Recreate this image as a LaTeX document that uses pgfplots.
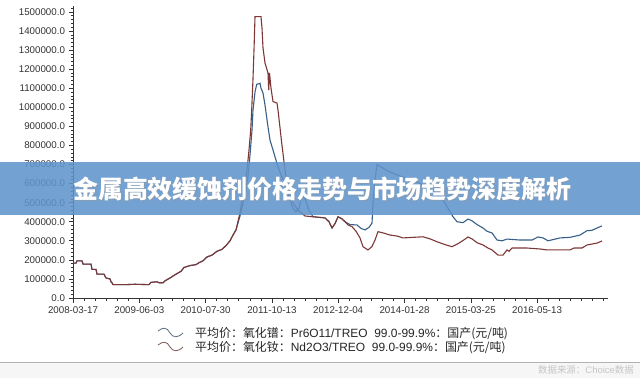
\documentclass[border=0pt]{standalone}
\usepackage{pgfplots}
\pgfplotsset{compat=1.18}
\usepackage{fontspec}
\setmainfont{Liberation Sans}
\newfontfamily\cjk{Noto Sans CJK SC}
\definecolor{prblue}{RGB}{55,95,135}
\definecolor{ndred}{RGB}{125,55,55}
\definecolor{banner}{RGB}{96,148,204}
\begin{document}
\begin{tikzpicture}[x=1bp,y=1bp]
\path[fill=white,use as bounding box] (0,0) rectangle (640,378);
\fill[gray!7] (0,0) rectangle (640,16);
\draw[gray!60,line width=0.8bp] (0,16) -- (640,16);
\begin{axis}[
  at={(73bp,80bp)}, anchor=south west,
  scale only axis, width=535bp, height=291.8bp,
  xmin=0, xmax=535, ymin=0, ymax=1530000,
  axis x line=bottom, axis y line=left,
  axis line style={-, black!80, line width=0.6bp},
  tick align=outside,
  xtick={0,66.3,132.6,198.9,265.2,331.5,397.8,464.1},
  xticklabels={2008-03-17,2009-06-03,2010-07-30,2011-10-13,2012-12-04,2014-01-28,2015-03-25,2016-05-13},
  minor xtick={0,11.05,...,535},
  ytick={0,100000,...,1500000},
  minor ytick={0,20000,...,1520000},
  major tick length=4.5bp, minor tick length=2.5bp,
  tick style={black!80, line width=0.6bp},
  scaled y ticks=false,
  yticklabel style={/pgf/number format/.cd, fixed, fixed zerofill, precision=1, 1000 sep={}, assume math mode=true},
  ticklabel style={font=\fontsize{9.8}{11}\selectfont, text=black!80},
  xticklabel style={yshift=-1bp},
]
\addplot[prblue, line width=1.1bp] coordinates {
(0,183000)(3,183000)(4,195000)(9,195000)(10,178000)(18,178000)(19,150000)(23,150000)(24,125000)(31,125000)(33,105000)(37,100000)(38,85000)(39,80000)(40,70000)(52,70000)(62,72000)(76,70000)(78,82000)(84,85000)(86,80000)(90,80000)(92,90000)(97,105000)(103,125000)(108,140000)(111,160000)(117,170000)(123,175000)(126,185000)(130,195000)(134,215000)(139,225000)(144,245000)(149,255000)(153,275000)(157,300000)(160,330000)(163,357000)
(167,430000)(172,540000)(175,640000)(177,750000)(179,880000)(180,986000)(182,1080000)(183.7,1120000)(187,1126000)(188,1100000)(190,1075000)(192,1012000)(195,897000)(197,828000)(200,776000)(205,687000)(209,634000)(214,566000)(217,514000)(220,470000)(223,452000)(226,470000)(229,540000)(232,520000)(236,460000)(240,426000)(252,420000)(256,400000)(259,367000)(262,390000)(265,426000)(269,415000)(272,400000)(277,385000)(284,383000)(288,365000)(292,357000)(296,370000)(299,393000)(300,498000)(302,620000)(304,700000)(307,690000)(317,660000)(327,640000)(337,620000)(347,600000)(357,570000)(364,545000)(370,514000)(374,479000)(380,426000)(384,400000)(390,395000)(395,414000)(399,405000)(404,385000)(410,367000)(414,350000)(419,341000)(424,304000)(429,300000)(434,309000)(447,304000)(459,304000)(465,320000)(470,315000)(475,300000)(487,315000)(497,318000)(507,330000)(514,353000)(519,355000)(524,367000)(529,378000)
};
\addplot[ndred, line width=1.1bp] coordinates {
(0,183000)(3,183000)(4,195000)(9,195000)(10,178000)(18,178000)(19,150000)(23,150000)(24,125000)(31,125000)(33,105000)(37,100000)(38,85000)(39,80000)(40,70000)(52,70000)(62,72000)(76,70000)(78,82000)(84,85000)(86,80000)(90,80000)(92,90000)(97,105000)(103,125000)(108,140000)(111,160000)(117,170000)(123,175000)(126,185000)(130,195000)(134,215000)(139,225000)(144,245000)(149,255000)(153,275000)(157,300000)(160,330000)(163,357000)
(167,446000)(170,550000)(173.7,655000)(176,776000)(177.7,881000)(178.7,986000)(180,1150000)(181,1300000)(182,1475000)(188,1475000)(189,1414000)(190,1311000)(192,1232000)(195,1180000)(195.7,1090000)(196.5,1180000)(198,1100000)(200,1030000)(204,1022000)(205,986000)(208.7,813000)(212,671000)(215,582000)(220,498000)(225,460000)(232,430000)(240,426000)(252,420000)(256,400000)(259,367000)(262,390000)(265,426000)(269,415000)(272,400000)(275,383000)(279,374000)(283,350000)(287,315000)(290,269000)(295,252000)(299,270000)(302,304000)(305,348000)(311,340000)(317,330000)(324,325000)(330,315000)(340,318000)(350,321000)(357,310000)(364,295000)(372,280000)(379,269000)(385,285000)(391,305000)(395,320000)(399,310000)(404,290000)(410,278000)(415,262000)(419,252000)(425,225000)(430,225000)(434,252000)(436,245000)(439,262000)(454,262000)(467,257000)(474,252000)(497,252000)(501,262000)(509,262000)(514,278000)(524,288000)(529,299000)
};
\end{axis}
% banner
\fill[banner, opacity=0.88] (0,163) rectangle (640,216);
\node[anchor=west, inner sep=0, text=black!40, opacity=0.5] at (74,188.5) {\fontsize{25}{27}\selectfont\cjk\bfseries 金属高效缓蚀剂价格走势与市场趋势深度解析};
\node[anchor=west, inner sep=0, text=white] at (73,189.5) {\fontsize{25}{27}\selectfont\cjk\bfseries 金属高效缓蚀剂价格走势与市场趋势深度解析};
% legend
\draw[prblue!55!gray, line width=0.8bp] (158,47) .. controls (163,51) and (167,51) .. (170,45) .. controls (173,40) and (178,40) .. (183,45);
\draw[ndred!55!gray, line width=0.8bp] (158,33) .. controls (163,37) and (167,37) .. (170,31) .. controls (173,26) and (178,26) .. (183,31);
\node[anchor=west, inner sep=0, text=black!85] at (195,44) {\fontsize{12}{13}\selectfont{\cjk 平均价：氧化镨：}Pr6O11/TREO\ \ 99.0-99.9\%{\cjk ：国产(元/吨)}};
\node[anchor=west, inner sep=0, text=black!85] at (195,30.5) {\fontsize{12}{13}\selectfont{\cjk 平均价：氧化钕：}Nd2O3/TREO\ \ 99.0-99.9\%{\cjk ：国产(元/吨)}};
% watermark
\node[anchor=east, inner sep=0, text=gray!45] at (634,8) {\fontsize{9.5}{11}\selectfont{\cjk 数据来源：}Choice{\cjk 数据}};
\end{tikzpicture}
\end{document}
